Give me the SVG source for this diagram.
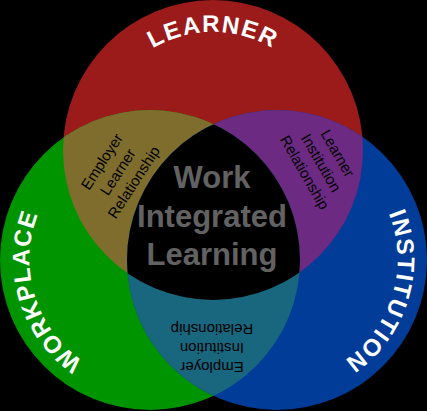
<svg xmlns="http://www.w3.org/2000/svg" width="427" height="411" viewBox="0 0 427 411">
  <style>
    .big { font-family: "Liberation Sans", Arial, sans-serif; font-weight: bold; font-size: 24px; fill: #ffffff; }
    .lbl { font-family: "Liberation Sans", Arial, sans-serif; font-size: 15px; fill: #000000; text-anchor: middle; }
    .ctr { font-family: "Liberation Sans", Arial, sans-serif; font-weight: bold; font-size: 31px; fill: #626262; text-anchor: middle; }
  </style>
  <defs>
    <clipPath id="cRed"><circle cx="213" cy="150" r="150"/></clipPath>
    <clipPath id="cGreen"><circle cx="150" cy="260" r="150"/></clipPath>
    <clipPath id="cBlue"><circle cx="277" cy="260" r="150"/></clipPath>
    <path id="pLearner" d="M95,150 A118,118 0 0 1 331,150"/>
    <path id="pWork" d="M185.96,377.6 A123,123 0 0 1 114.04,142.4"/>
    <path id="pInst" d="M312.96,142.4 A123,123 0 0 1 241.04,377.6"/>
  </defs>
  <rect width="427" height="411" fill="#000000"/>
  <g id="learner">
    <circle cx="213" cy="150" r="150" fill="#9b1b1b"/>
  </g>
  <g id="workplace">
    <circle cx="150" cy="260" r="150" fill="#009400"/>
  </g>
  <g id="institution">
    <circle cx="277" cy="260" r="150" fill="#003c98"/>
  </g>
  <g id="employer-learner">
    <g clip-path="url(#cRed)"><circle cx="150" cy="260" r="150" fill="#7f6d2d"/></g>
  </g>
  <g id="learner-institution">
    <g clip-path="url(#cRed)"><circle cx="277" cy="260" r="150" fill="#6c2a83"/></g>
  </g>
  <g id="employer-institution">
    <g clip-path="url(#cGreen)"><circle cx="277" cy="260" r="150" fill="#19667f"/></g>
  </g>
  <g id="wil">
    <g clip-path="url(#cRed)"><g clip-path="url(#cGreen)"><circle cx="277" cy="260" r="150" fill="#000000"/></g></g>
  </g>
  <g id="labels">
    <text class="big" letter-spacing="1.5"><textPath href="#pLearner" startOffset="50%" text-anchor="middle">LEARNER</textPath></text>
    <text class="big" letter-spacing="1"><textPath href="#pWork" startOffset="50%" text-anchor="middle">WORKPLACE</textPath></text>
    <text class="big" letter-spacing="1.5"><textPath href="#pInst" startOffset="50%" text-anchor="middle">INSTITUTION</textPath></text>
    <text class="ctr" x="212" y="188">Work</text>
    <text class="ctr" x="212" y="227">Integrated</text>
    <text class="ctr" x="212" y="265">Learning</text>
    <g transform="translate(118,172) rotate(-57)">
      <text class="lbl" x="0" y="-14">Employer</text>
      <text class="lbl" x="0" y="5">Learner</text>
      <text class="lbl" x="0" y="24">Relationship</text>
    </g>
    <g transform="translate(321,163) rotate(60)">
      <text class="lbl" x="0" y="-14">Learner</text>
      <text class="lbl" x="0" y="5">Institution</text>
      <text class="lbl" x="0" y="24">Relationship</text>
    </g>
    <g transform="translate(212,348) rotate(180)">
      <text class="lbl" x="0" y="-14">Employer</text>
      <text class="lbl" x="0" y="5">Institution</text>
      <text class="lbl" x="0" y="24">Relationship</text>
    </g>
  </g>
</svg>
